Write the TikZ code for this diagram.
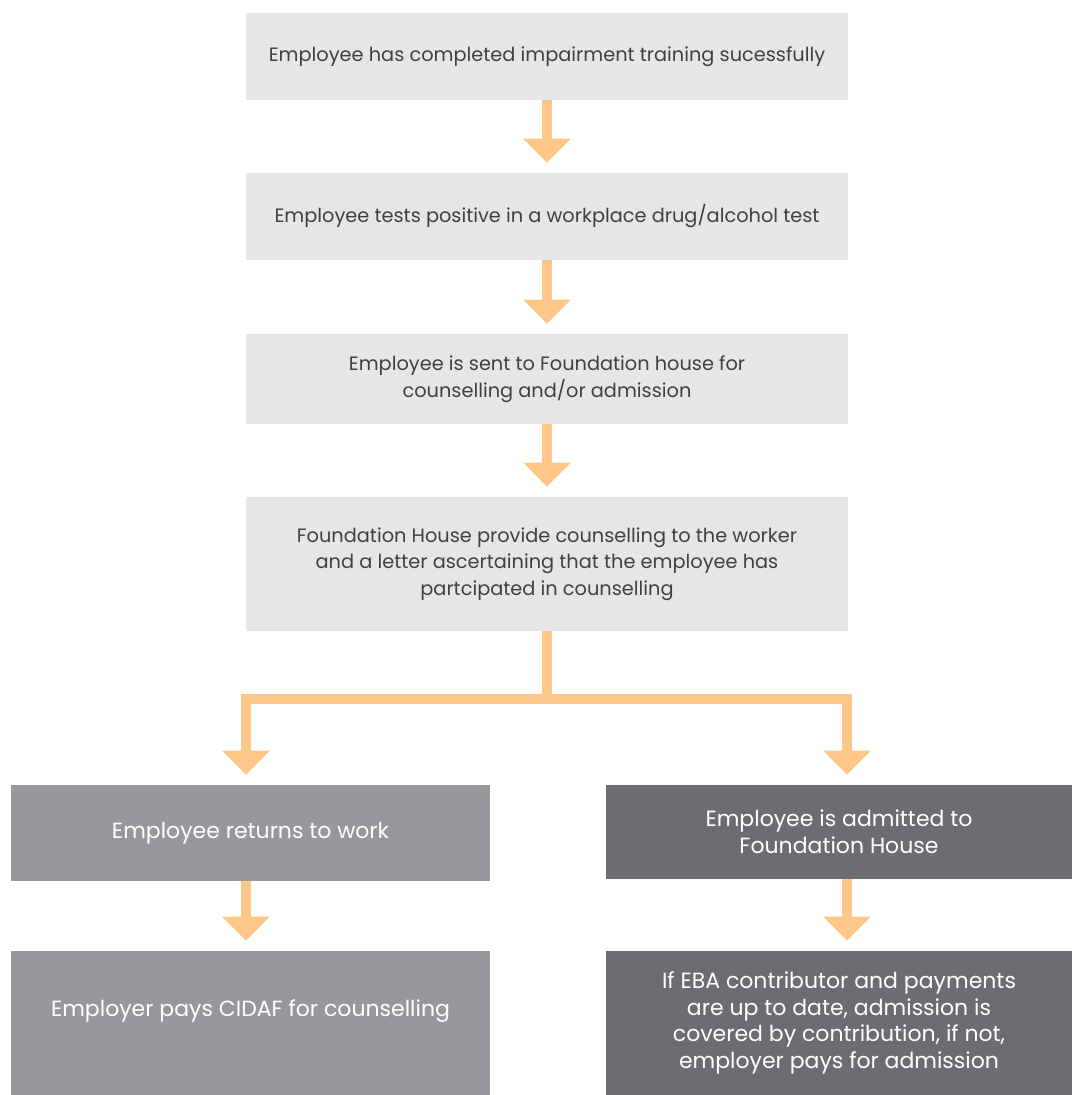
\documentclass[tikz,border=0pt]{standalone}
\usepackage{fontspec}
\setmainfont{Poppins}
\usetikzlibrary{arrows.meta}
\usetikzlibrary{positioning}
\definecolor{lightbox}{HTML}{E5E6E7}
\definecolor{midbox}{HTML}{97989B}
\definecolor{darkbox}{HTML}{6C6D70}
\definecolor{flowline}{HTML}{FFC68A}
\definecolor{boxtext}{HTML}{414042}
\tikzset{
  stage/.style={rectangle,fill=lightbox,text=boxtext,align=center,inner sep=0pt,
    minimum width=451.5pt,font=\fontsize{14.5}{20}\selectfont},
  outcome/.style={rectangle,fill=midbox,text=white,align=center,inner sep=0pt,
    minimum width=359.25pt,font=\fontsize{16.5}{20}\selectfont},
  admitbox/.style={rectangle,fill=darkbox,text=white,align=center,inner sep=0pt,
    minimum width=349.5pt,font=\fontsize{16.5}{20}\selectfont},
  flowbar/.style={draw=flowline,line width=7.5pt},
  flow/.style={flowbar,-{Triangle[width=34.5pt,length=18pt]},shorten >=7.5pt}
}
\begin{document}
\begin{tikzpicture}[x=0.75pt,y=-0.75pt]
\useasboundingbox (0,0) rectangle (1072,1095);

\node[stage,minimum height=65.25pt] (trained) at (547,56.5) {Employee has completed impairment training sucessfully};
\node[stage,minimum height=65.25pt] (positive) at (547,216.5) {Employee tests positive in a workplace drug/alcohol test};
\node[stage,minimum height=67.5pt] (sent) at (547,379) {Employee is sent to Foundation house for\\counselling and/or admission};
\node[stage,minimum height=100.5pt] (provide) at (547,564) {Foundation House provide counselling to the worker\\and a letter ascertaining that the employee has\\partcipated in counselling};

\node[outcome,minimum height=72pt] (returns) at (250.5,833) {Employee returns to work};
\node[admitbox,minimum height=70.5pt] (admitted) at (839,832) {Employee is admitted to\\Foundation House};
\node[outcome,minimum height=108pt,text depth=23pt] (pays) at (250.5,1023) {Employer pays CIDAF for counselling};
\node[admitbox,minimum height=108pt] (covered) at (839,1023) {If EBA contributor and payments\\are up to date, admission is\\covered by contribution, if not,\\employer pays for admission};

\draw[flow] (trained) -- (positive);
\draw[flow] (positive) -- (sent);
\draw[flow] (sent) -- (provide);

% split after counselling
\draw[flowbar] (provide.south) -- ++(0,67.5) coordinate (fork);
\draw[flow] (fork) -| ([xshift=-3.4pt]returns.north);
\draw[flow] (fork) -| ([xshift=6pt]admitted.north);

\draw[flow] ([xshift=-3.4pt]returns.south) -- ([xshift=-3.4pt]pays.north);
\draw[flow] ([xshift=6pt]admitted.south) -- ([xshift=6pt]covered.north);

\end{tikzpicture}
\end{document}
